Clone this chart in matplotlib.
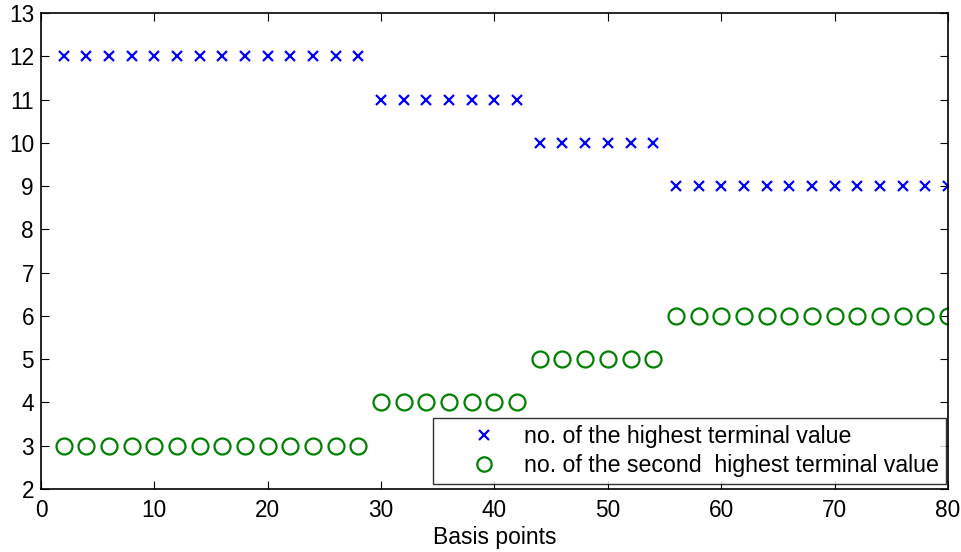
import numpy as np
import matplotlib
matplotlib.use('Agg')
import matplotlib.pyplot as plt

plt.rcParams['font.family'] = ['Liberation Sans', 'DejaVu Sans']

basis = list(range(2, 81, 2))
highest = [12] * 14 + [11] * 7 + [10] * 6 + [9] * 13
second = [3] * 14 + [4] * 7 + [5] * 6 + [6] * 13


def main():
    fig = plt.figure(figsize=(9.62, 5.52), dpi=100)
    ax = fig.add_axes([0.0426, 0.1141, 0.9428, 0.8623])
    ax.plot(basis, highest, 'x', color='#0000ff', markersize=7.5, markeredgewidth=1.6,
            label='no. of the highest terminal value')
    ax.plot(basis, second, 'o', color='#008000', markerfacecolor='none', markersize=11.5,
            markeredgewidth=1.6, label='no. of the second  highest terminal value')
    ax.axis([0, 80, 2, 13])
    ax.set_xticks(np.arange(0, 81, 10))
    ax.set_yticks(np.arange(2, 14, 1))
    ax.tick_params(direction='in', length=6, labelsize=16.3, top=True, right=True, width=0.8)
    ax.tick_params(axis='x', pad=7)
    ax.tick_params(axis='y', pad=5)
    ax.set_xlabel('Basis points', fontsize=16.5, labelpad=3)
    for s in ax.spines.values():
        s.set_linewidth(1.2)
    leg = ax.legend(loc='lower right', bbox_to_anchor=(0.998, 0.0105), fontsize=16.7,
                    frameon=True, fancybox=False, edgecolor='black', borderaxespad=0,
                    handlelength=3.8, handletextpad=-0.15, labelspacing=0.27,
                    borderpad=0.3, markerscale=0.9)
    leg.get_frame().set_linewidth(1.0)
    plt.savefig('out.png', dpi=100)


if __name__ == '__main__':
    main()
